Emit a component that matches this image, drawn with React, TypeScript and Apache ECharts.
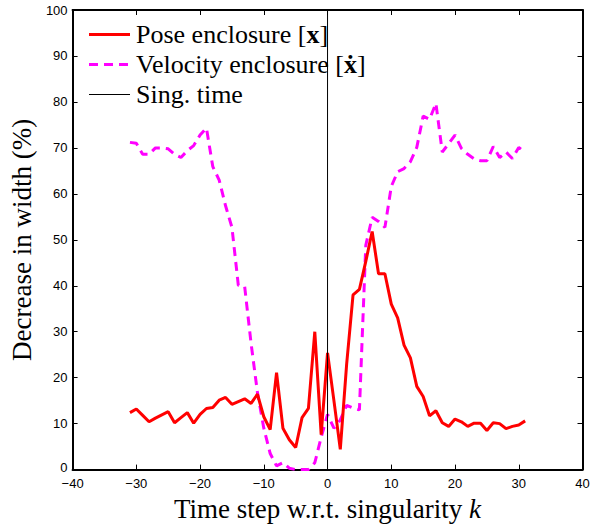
import React, { useEffect, useRef } from "react";
import * as echarts from "echarts";

const steps: number[] = [];
for (let k = -31; k <= 31; k++) steps.push(k);

const poseWidth = [
  12.4, 13.2, 11.8, 10.4, 11.2, 11.9, 12.6, 10.2, 11.3, 12.4,
  10.1, 12.0, 13.3, 13.5, 15.1, 15.7, 14.2, 14.8, 15.4, 14.4,
  16.4, 11.5, 8.7, 21.1, 9.0, 6.5, 4.8, 11.3, 13.3, 30.0,
  7.6, 25.4, 15.0, 4.4, 23.0, 38.0, 39.2, 45.3, 51.8, 42.6,
  42.6, 36.0, 33.0, 27.1, 24.3, 18.1, 15.9, 11.7, 12.8, 10.2,
  9.4, 11.0, 10.4, 9.4, 10.1, 10.1, 8.5, 10.2, 10.0, 8.9,
  9.4, 9.7, 10.6,
];

const velocityWidth = [
  71.2, 71.0, 68.6, 68.6, 70.0, 70.0, 69.8, 68.6, 67.9, 69.4,
  70.5, 72.8, 74.3, 65.9, 63.0, 57.4, 52.7, 40.1, 39.8, 27.5,
  16.8, 9.0, 3.5, 0.8, 1.5, 0.3, 0.0, 0.0, 0.0, 1.5,
  7.0, 12.0, 9.0, 10.8, 14.0, 13.4, 13.0, 48.8, 54.9, 54.0,
  52.7, 61.6, 64.8, 65.5, 67.0, 70.1, 76.9, 76.2, 79.7, 69.1,
  70.9, 72.8, 69.9, 68.6, 67.6, 67.2, 67.2, 70.3, 67.9, 69.1,
  67.7, 70.1, 69.0,
];

const singTime = [
  [0, 0],
  [0, 100],
];

const xTicks = { min: -40, max: 40, interval: 10 };
const yTicks = { min: 0, max: 100, interval: 10 };

const legendNames = ["Pose enclosure [{b|x}]", "Velocity enclosure [{b|ẋ}]", "Sing. time"];

export default function App() {
  const ref = useRef<HTMLDivElement>(null);
  useEffect(() => {
    if (!ref.current) return;
    const chart = echarts.init(ref.current, undefined, { renderer: "svg" });
    const serif = "'Liberation Serif', 'Times New Roman', serif";
    const sans = "'Liberation Sans', Arial, sans-serif";
    const axisCommon = {
      axisLine: { show: true, onZero: false, lineStyle: { color: "#000", width: 2 } },
      axisTick: { show: true, inside: true, length: 5, lineStyle: { color: "#000", width: 1 } },
      splitLine: { show: false },
    };
    const richLegend = {
      b: { fontFamily: serif, fontSize: 26, fontWeight: "bold", color: "#000" },
    };
    const richTitle = {
      i: { fontFamily: serif, fontSize: 27, fontStyle: "italic", color: "#000" },
    };
    const pose = steps.map((k, i) => [k, poseWidth[i]]);
    const vel = steps.map((k, i) => [k, velocityWidth[i]]);
    const legendY = [34, 64, 94];
    const legendStyles = [
      { stroke: "#ff0000", lineWidth: 3 },
      { stroke: "#ff00ff", lineWidth: 3, lineDash: [9, 6] },
      { stroke: "#000000", lineWidth: 1 },
    ];
    const graphic: any[] = [];
    legendNames.forEach((name, i) => {
      graphic.push({
        type: "line",
        shape: { x1: 89, y1: legendY[i] + 0.5, x2: 130, y2: legendY[i] + 0.5 },
        style: legendStyles[i],
      });
      graphic.push({
        type: "text",
        x: 136,
        y: legendY[i],
        style: {
          text: name,
          fontFamily: serif,
          fontSize: 26,
          fill: "#000",
          verticalAlign: "middle",
          rich: richLegend,
        },
      });
    });
    chart.setOption({
      animation: false,
      backgroundColor: "#fff",
      grid: { left: 72.5, right: 25.5, top: 10, bottom: 48, containLabel: false },
      xAxis: [
        {
          type: "value",
          ...xTicks,
          position: "bottom",
          ...axisCommon,
          axisLabel: {
            color: "#000",
            fontFamily: sans,
            fontSize: 13,
            lineHeight: 12,
            margin: 8,
            formatter: (v: number) => String(v).replace("-", "\u2212"),
          },
          name: "Time step w.r.t. singularity {i|k}",
          nameLocation: "middle",
          nameGap: 20,
          nameTextStyle: {
            fontFamily: serif,
            fontSize: 27,
            color: "#000",
            verticalAlign: "top",
            rich: richTitle,
          },
        },
        {
          type: "value",
          ...xTicks,
          position: "top",
          ...axisCommon,
          axisLabel: { show: false },
        },
      ],
      yAxis: [
        {
          type: "value",
          ...yTicks,
          position: "left",
          ...axisCommon,
          axisLabel: {
            color: "#000",
            fontFamily: sans,
            fontSize: 13,
            lineHeight: 12,
            margin: 5,
            formatter: (v: number) => (v === 0 ? "{z|0}" : String(v)),
            rich: {
              z: {
                color: "#000",
                fontFamily: sans,
                fontSize: 13,
                lineHeight: 12,
                padding: [0, 0, 5, 0],
              },
            },
          },
          name: "Decrease in width (%)",
          nameLocation: "middle",
          nameGap: 36,
          nameTextStyle: { fontFamily: serif, fontSize: 27, color: "#000" },
        },
        {
          type: "value",
          ...yTicks,
          position: "right",
          ...axisCommon,
          axisLabel: { show: false },
        },
      ],
      graphic,
      series: [
        {
          name: "Pose enclosure",
          type: "line",
          data: pose,
          showSymbol: false,
          symbol: "none",
          lineStyle: { color: "#ff0000", width: 3 },
          z: 3,
        },
        {
          name: "Velocity enclosure",
          type: "line",
          data: vel,
          showSymbol: false,
          symbol: "none",
          lineStyle: { color: "#ff00ff", width: 3, type: [9, 6] },
          z: 2,
        },
        {
          name: "Sing. time",
          type: "line",
          data: singTime,
          showSymbol: false,
          symbol: "none",
          lineStyle: { color: "#000", width: 1 },
          z: 4,
        },
      ],
    });
    return () => chart.dispose();
  }, []);
  return (
    <div
      ref={ref}
      style={{ position: "fixed", left: 0, top: 0, width: 608, height: 527, background: "#fff" }}
    />
  );
}
